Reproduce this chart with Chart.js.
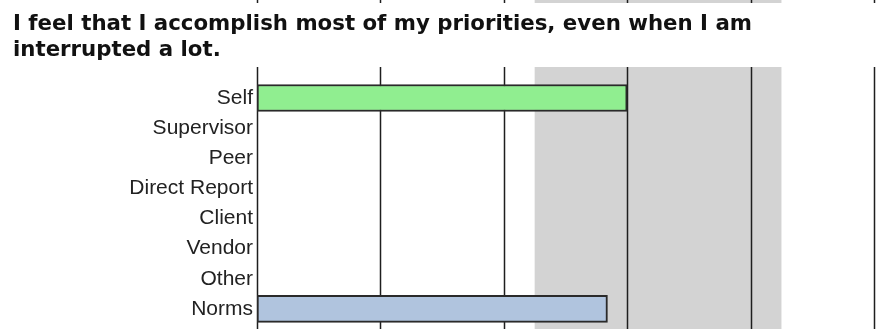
<!DOCTYPE html>
<html>
<head>
<meta charset="utf-8">
<script src="https://cdn.jsdelivr.net/npm/chart.js@4.4.0/dist/chart.umd.min.js"></script>
<style>
  html, body { margin: 0; padding: 0; background: #fff; overflow: hidden; }
</style>
</head>
<body>
<canvas id="myChart" width="883" height="329"></canvas>
<script>
  const titleLines = ['I feel that I accomplish most of my priorities, even when I am', 'interrupted a lot.'];
  const categories = ['Self', 'Supervisor', 'Peer', 'Direct Report', 'Client', 'Vendor', 'Other', 'Norms'];
  const scores = [3.0, null, null, null, null, null, null, 2.84];
  const scaleTicks = [0, 1, 2, 3, 4, 5];
  const normBand = [2.25, 4.25];

  const barColors = ['#90ee90', '#90ee90', '#90ee90', '#90ee90', '#90ee90', '#90ee90', '#90ee90', '#b0c4de'];

  // gray norm band + vertical lines, drawn a bit past the chart area like the original
  const backdrop = {
    id: 'backdrop',
    beforeDatasetsDraw(chart) {
      const ctx = chart.ctx;
      const x = chart.scales.x;
      const spans = [[0, 3], [67, chart.height]];
      ctx.save();
      ctx.fillStyle = '#d3d3d3';
      const b0 = x.getPixelForValue(normBand[0]);
      const b1 = x.getPixelForValue(normBand[1]);
      spans.forEach(s => ctx.fillRect(b0, s[0], b1 - b0, s[1] - s[0]));
      ctx.strokeStyle = '#1e1e1e';
      ctx.lineWidth = 1.5;
      scaleTicks.forEach(v => {
        const px = Math.round(x.getPixelForValue(v)) + 0.5;
        spans.forEach(s => {
          ctx.beginPath();
          ctx.moveTo(px, s[0]);
          ctx.lineTo(px, s[1]);
          ctx.stroke();
        });
      });
      ctx.restore();
    }
  };

  const myChart = new Chart('myChart', {
    type: 'bar',
    data: {
      labels: categories,
      datasets: [{
        label: 'Score',
        data: scores,
        backgroundColor: barColors,
        borderColor: '#2a2a2a',
        borderWidth: 2,
        borderSkipped: false,
        barThickness: 27
      }]
    },
    options: {
      responsive: false,
      maintainAspectRatio: false,
      animation: false,
      indexAxis: 'y',
      layout: { padding: { left: 13, right: 9, top: 0, bottom: 5 } },
      scales: {
        x: {
          display: false,
          min: scaleTicks[0],
          max: scaleTicks[scaleTicks.length - 1],
          ticks: { stepSize: 1 }
        },
        y: {
          grid: { display: false, drawTicks: false },
          border: { display: false },
          ticks: {
            color: '#222',
            padding: 4,
            font: { family: 'Liberation Sans', size: 21 }
          },
          afterFit(scale) {
            scale.width = 244;
            scale.paddingTop = 0;
            scale.paddingBottom = 0;
          }
        }
      },
      plugins: {
        legend: { display: false },
        tooltip: { enabled: false },
        title: {
          display: true,
          text: titleLines,
          align: 'start',
          color: '#111',
          font: { family: 'DejaVu Sans', weight: 'bold', size: 21.3, lineHeight: 1.22 },
          padding: { top: 11, bottom: 20 }
        }
      }
    },
    plugins: [backdrop]
  });
</script>
</body>
</html>
